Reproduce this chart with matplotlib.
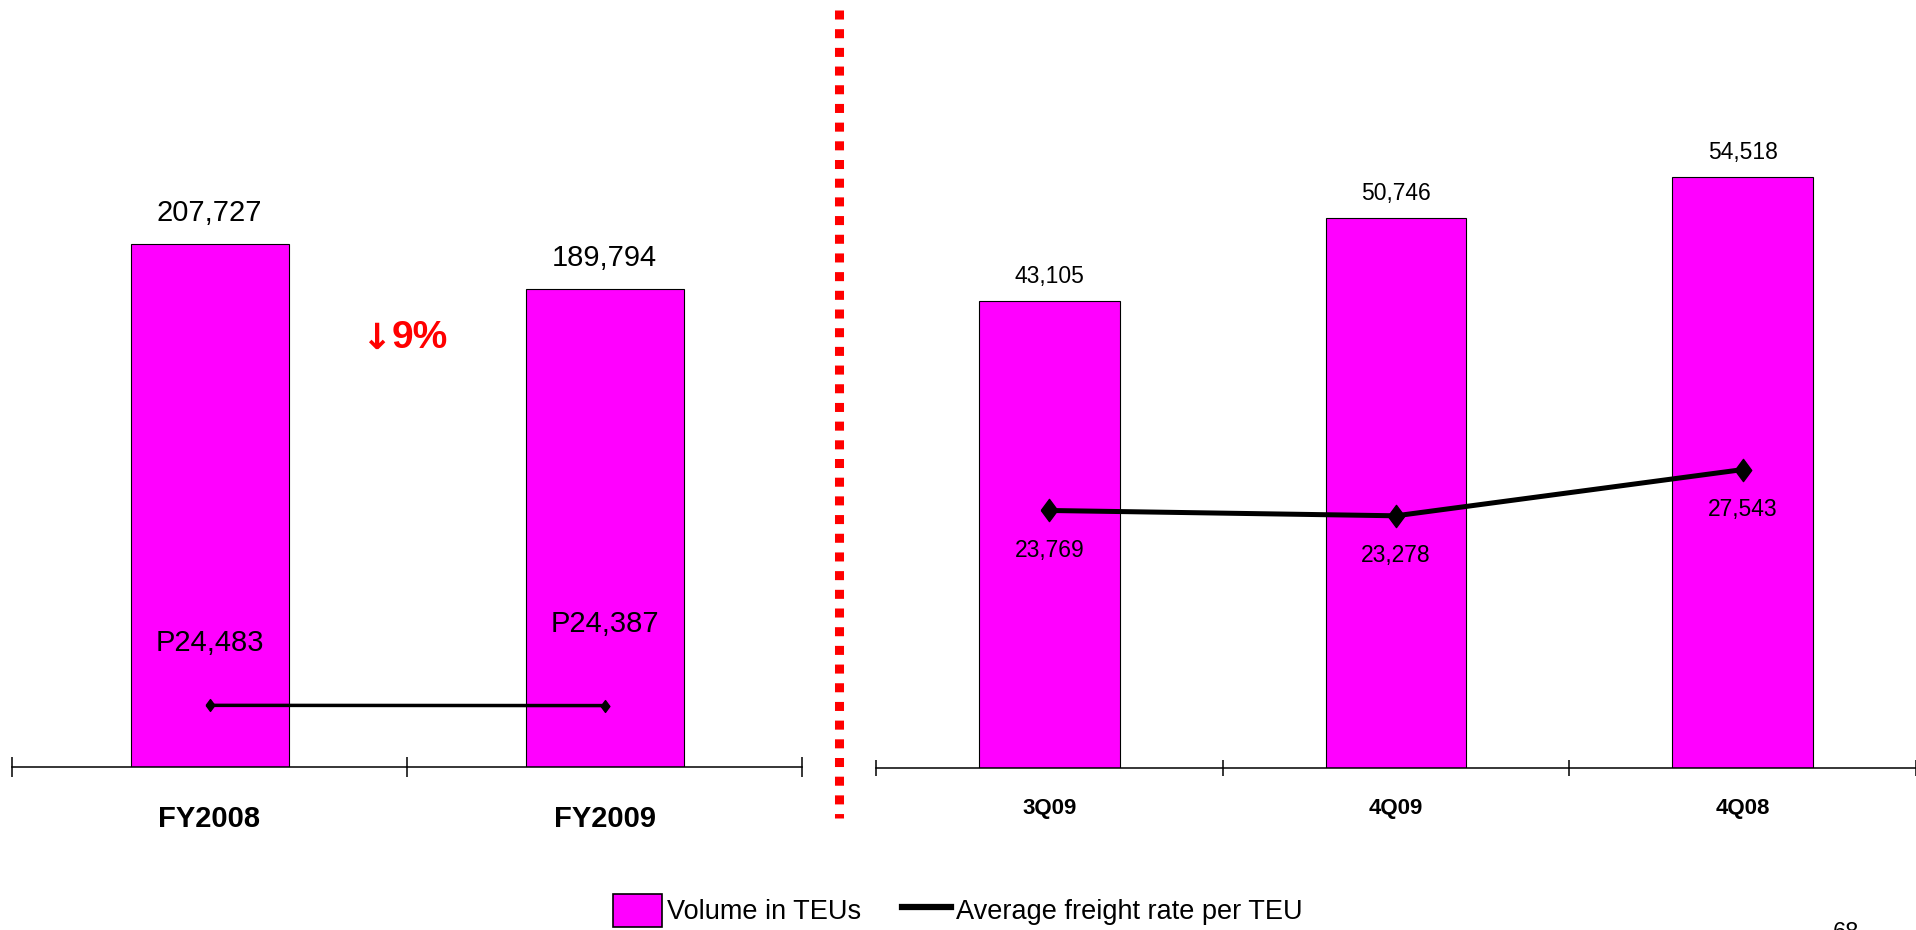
import matplotlib
matplotlib.use('Agg')
import matplotlib.pyplot as plt
from matplotlib.patches import Patch
from matplotlib.lines import Line2D

# values
fy_labels = ['FY2008', 'FY2009']
fy_volume = [207727, 189794]
fy_rate = [24483, 24387]

q_labels = ['3Q09', '4Q09', '4Q08']
q_volume = [43105, 50746, 54518]
q_rate = [23769, 23278, 27543]

change_arrow = '\u2193'
change_pct = '9%'
page_no = '68'

MAGENTA = '#FF00FF'
REG = ['Liberation Sans', 'DejaVu Sans']

plt.rcParams['font.family'] = REG

fig = plt.figure(figsize=(19.16, 9.30), dpi=100)

# thin diamond marker, a bit taller than wide
diamond = [(-0.37, 0), (0, 0.5), (0.37, 0), (0, -0.5), (-0.37, 0)]


def style_axis(ax, n, xmax, ticklen):
    for s in ['top', 'left', 'right']:
        ax.spines[s].set_visible(False)
    ax.spines['bottom'].set_linewidth(1.1)
    ax.set_yticks([])
    ax.set_xlim(-0.5, xmax)
    ax.set_xticks([i - 0.5 for i in range(n + 1)], minor=True)
    ax.set_xticks([])
    ax.tick_params(axis='x', which='minor', direction='inout', length=ticklen, width=1.1)
    ax.patch.set_visible(False)


# ---- left panel: full year
ax1 = fig.add_axes([12 / 1916, 163 / 930, 790 / 1916, 617 / 930])
x1 = list(range(len(fy_labels)))
ax1.bar(x1, fy_volume, width=0.40, color=MAGENTA, edgecolor='black', linewidth=0.8, zorder=2)
ax1.plot(x1, fy_rate, color='black', lw=2.5, marker=diamond, ms=8.5, zorder=3)
ax1.set_ylim(0, 245000)
style_axis(ax1, 2, 1.5, 15)

for x, v in zip(x1, fy_volume):
    ax1.annotate(f'{v:,}', (x, v), xytext=(0, 22), textcoords='offset points',
                 ha='center', va='center', fontsize=21)
rate_offsets = [45, 58.5]
for x, v, off in zip(x1, fy_rate, rate_offsets):
    ax1.annotate(f'P{v:,}', (x, v), xytext=(0, off), textcoords='offset points',
                 ha='center', va='center', fontsize=21)
for x, lab in zip(x1, fy_labels):
    ax1.annotate(lab, (x, 0), xycoords=('data', 'axes fraction'), xytext=(0, -37.5),
                 textcoords='offset points', ha='center', va='center',
                 fontsize=21, fontweight='bold')
# red change marker: arrow + percentage
ax1.annotate(change_arrow, (0.5, 0.6945), xycoords=('data', 'axes fraction'),
             xytext=(-22, 0), textcoords='offset points', ha='center', va='center',
             color='#FF0000', fontsize=26, fontweight='bold', family=['DejaVu Sans'])
ax1.annotate(change_pct, (0.5, 0.6945), xycoords=('data', 'axes fraction'),
             xytext=(9, 0), textcoords='offset points', ha='center', va='center',
             color='#FF0000', fontsize=28, fontweight='bold')

# ---- right panel: quarters
ax2 = fig.add_axes([876 / 1916, 162 / 930, 1040 / 1916, 618 / 930])
x2 = list(range(len(q_labels)))
ax2.bar(x2, q_volume, width=0.405, color=MAGENTA, edgecolor='black', linewidth=0.8, zorder=2)
ax2.plot(x2, q_rate, color='black', lw=3.6, marker=diamond, ms=16, zorder=3)
ax2.set_ylim(0, 57040)
style_axis(ax2, 3, 2.49, 12)

for x, v in zip(x2, q_volume):
    ax2.annotate(f'{v:,}', (x, v), xytext=(0, 17.6), textcoords='offset points',
                 ha='center', va='center', fontsize=16.5)
for x, v in zip(x2, q_rate):
    ax2.annotate(f'{v:,}', (x, v), xytext=(0, -28.5), textcoords='offset points',
                 ha='center', va='center', fontsize=16.5)
for x, lab in zip(x2, q_labels):
    ax2.annotate(lab, (x, 0), xycoords=('data', 'axes fraction'), xytext=(0, -28.8),
                 textcoords='offset points', ha='center', va='center',
                 fontsize=16, fontweight='bold')

# red dotted divider
fig.add_artist(Line2D([839 / 1916, 839 / 1916], [1 - 10 / 930, 1 - 818 / 930],
                      transform=fig.transFigure, color='#FF0000', lw=6.5,
                      dashes=(1, 1.07), dash_capstyle='butt'))

# legend
handles = [Patch(facecolor=MAGENTA, edgecolor='black', linewidth=1.2),
           Line2D([], [], color='black', lw=4.5)]
fig.legend(handles, ['Volume in TEUs', 'Average freight rate per TEU'],
           loc='lower left', bbox_to_anchor=(613 / 1916, 3 / 930), ncol=2,
           frameon=False, prop={'family': REG, 'size': 19.5}, borderpad=0,
           borderaxespad=0, handlelength=1.8, handleheight=1.5,
           handletextpad=0.2, columnspacing=1.5)

fig.text(1846 / 1916, 8 / 930, page_no, ha='center', va='top', fontsize=17)

fig.savefig('out.png', dpi=100)
